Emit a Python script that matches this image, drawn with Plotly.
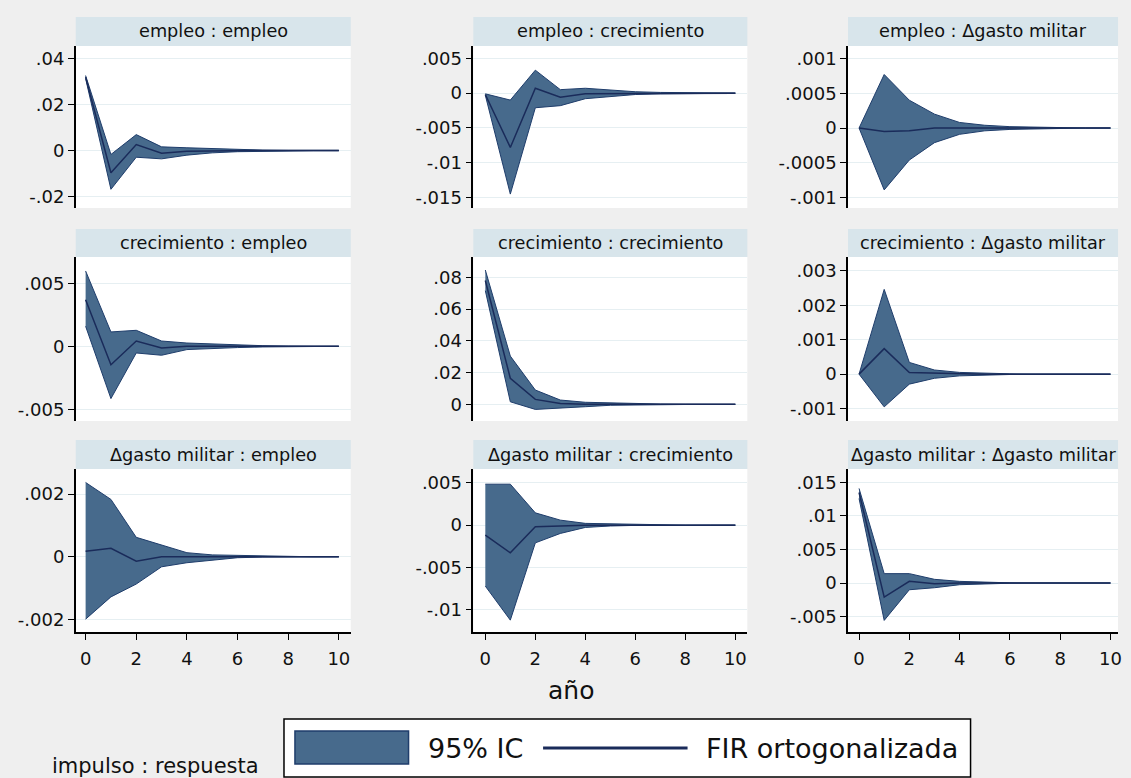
import plotly.graph_objects as go

W, H = 1131, 778

steps = [0, 1, 2, 3, 4, 5, 6, 7, 8, 9, 10]
x_ticks = [0, 2, 4, 6, 8, 10]
x_ticktext = ["0", "2", "4", "6", "8", "10"]

titles = [
    "empleo : empleo", "empleo : crecimiento", "empleo : \u0394gasto militar",
    "crecimiento : empleo", "crecimiento : crecimiento", "crecimiento : \u0394gasto militar",
    "\u0394gasto militar : empleo", "\u0394gasto militar : crecimiento", "\u0394gasto militar : \u0394gasto militar",
]

# --- panel data: orthogonalized IRF and 95% CI bounds ---
fir_1 = [0.0318, -0.0096, 0.0026, -0.0012, -0.0003, -0.0001, 0.0, 0.0, 0.0, 0.0, 0.0]
lo_1 = [0.0312, -0.0168, -0.0029, -0.0036, -0.0020, -0.0010, -0.0005, -0.0003, -0.0002, -0.0001, -0.0001]
hi_1 = [0.0325, -0.0017, 0.0069, 0.0016, 0.0012, 0.0008, 0.0004, 0.0002, 0.0001, 0.0001, 0.0001]

fir_2 = [-0.0002, -0.0078, 0.0007, -0.0006, -0.0001, -0.0001, 0.0, 0.0, 0.0, 0.0, 0.0]
lo_2 = [-0.0003, -0.0145, -0.0021, -0.0018, -0.0008, -0.0005, -0.0002, -0.0001, -0.00005, -0.00003, -0.00002]
hi_2 = [-0.0001, -0.0010, 0.0033, 0.0005, 0.0007, 0.0004, 0.0002, 0.0001, 0.00005, 0.00003, 0.00002]

fir_3 = [0.0, -0.00005, -0.00004, 0.0, 0.0, 0.0, 0.0, 0.0, 0.0, 0.0, 0.0]
lo_3 = [0.0, -0.00089, -0.00046, -0.00021, -0.00009, -0.00004, -0.00002, -0.00001, -0.000005, 0.0, 0.0]
hi_3 = [0.0, 0.00077, 0.00040, 0.00020, 0.00008, 0.00004, 0.00002, 0.00001, 0.000005, 0.0, 0.0]

fir_4 = [0.0037, -0.00146, 0.00042, -0.00013, 0.0, 0.0, 0.0, 0.0, 0.0, 0.0, 0.0]
lo_4 = [0.00159, -0.00415, -0.00053, -0.00071, -0.00026, -0.00015, -0.0001, -0.00005, -0.00002, -0.00001, 0.0]
hi_4 = [0.00598, 0.00114, 0.00127, 0.00042, 0.00026, 0.00018, 0.0001, 0.00005, 0.00002, 0.00001, 0.0]

fir_5 = [0.078, 0.0164, 0.0031, 0.0006, 0.0001, 0.0, 0.0, 0.0, 0.0, 0.0, 0.0]
lo_5 = [0.0716, 0.0016, -0.0032, -0.0025, -0.0015, -0.0006, -0.0003, -0.0002, -0.0001, -0.00005, 0.0]
hi_5 = [0.0846, 0.0304, 0.0090, 0.0027, 0.0013, 0.0008, 0.0004, 0.0002, 0.0001, 0.00005, 0.0]

fir_6 = [0.0, 0.00074, 0.00005, 0.00003, 0.00001, 0.0, 0.0, 0.0, 0.0, 0.0, 0.0]
lo_6 = [0.0, -0.00095, -0.00029, -0.00012, -0.00005, -0.00002, -0.00001, 0.0, 0.0, 0.0, 0.0]
hi_6 = [0.0, 0.00246, 0.00034, 0.00012, 0.00005, 0.00002, 0.00001, 0.0, 0.0, 0.0, 0.0]

fir_7 = [0.00018, 0.00027, -0.00014, 0.0, 0.0, 0.0, 0.0, 0.0, 0.0, 0.0, 0.0]
lo_7 = [-0.00199, -0.00128, -0.00087, -0.00032, -0.00019, -0.0001, -0.00003, -0.00001, 0.0, 0.0, 0.0]
hi_7 = [0.00237, 0.00183, 0.00062, 0.00037, 0.00013, 0.00006, 0.00004, 0.00003, 0.00001, 0.0, 0.0]

fir_8 = [-0.00118, -0.00327, -0.0002, -0.0001, 0.0, 0.0, 0.0, 0.0, 0.0, 0.0, 0.0]
lo_8 = [-0.00719, -0.0112, -0.00209, -0.00098, -0.00027, -0.0001, -0.00003, 0.0, 0.0, 0.0, 0.0]
hi_8 = [0.00483, 0.00483, 0.00145, 0.00059, 0.00021, 0.00015, 0.0001, 0.00002, 0.0, 0.0, 0.0]

fir_9 = [0.0135, -0.0021, 0.00025, -0.0001, 0.0, 0.0, 0.0, 0.0, 0.0, 0.0, 0.0]
lo_9 = [0.0126, -0.00557, -0.0010, -0.0007, -0.00025, -0.0001, -0.00003, 0.0, 0.0, 0.0, 0.0]
hi_9 = [0.0141, 0.0014, 0.0014, 0.00055, 0.00025, 0.0001, 0.00003, 0.0, 0.0, 0.0, 0.0]

fir_all = [fir_1, fir_2, fir_3, fir_4, fir_5, fir_6, fir_7, fir_8, fir_9]
lo_all = [lo_1, lo_2, lo_3, lo_4, lo_5, lo_6, lo_7, lo_8, lo_9]
hi_all = [hi_1, hi_2, hi_3, hi_4, hi_5, hi_6, hi_7, hi_8, hi_9]

y_tickvals = [
    [-0.02, 0, 0.02, 0.04],
    [-0.015, -0.01, -0.005, 0, 0.005],
    [-0.001, -0.0005, 0, 0.0005, 0.001],
    [-0.005, 0, 0.005],
    [0, 0.02, 0.04, 0.06, 0.08],
    [-0.001, 0, 0.001, 0.002, 0.003],
    [-0.002, 0, 0.002],
    [-0.01, -0.005, 0, 0.005],
    [-0.005, 0, 0.005, 0.01, 0.015],
]
y_ticktext = [
    ["-.02", "0", ".02", ".04"],
    ["-.015", "-.01", "-.005", "0", ".005"],
    ["-.001", "-.0005", "0", ".0005", ".001"],
    ["-.005", "0", ".005"],
    ["0", ".02", ".04", ".06", ".08"],
    ["-.001", "0", ".001", ".002", ".003"],
    ["-.002", "0", ".002"],
    ["-.01", "-.005", "0", ".005"],
    ["-.005", "0", ".005", ".01", ".015"],
]

# --- styling ---
y_ranges = [
    [-0.0249, 0.0453], [-0.0165, 0.00677], [-0.00115, 0.00118],
    [-0.00593, 0.00709], [-0.0105, 0.0928], [-0.00136, 0.0034],
    [-0.0024, 0.0028], [-0.0126, 0.00662], [-0.0073, 0.017],
]
x_ranges = [[-0.39, 10.47], [-0.48, 10.48], [-0.44, 10.3]]
col_px = [(76, 352), (475, 750), (851, 1122)]
row_px = [(46, 208), (257, 421), (469, 632)]
strip_px = [(17, 46), (229, 257), (440, 469)]

BAND = "#476a8c"
BAND_EDGE = "#1f3d6b"
LINE = "#1a2b5a"
BG = "#efefef"
STRIP = "#d8e5eb"
GRID = "#e6eff2"
FONT = "DejaVu Sans"
TICK_SIZE = 18


def px(x):
    return x / W


def py(y):
    return 1 - y / H


fig = go.Figure()
shapes = []
annotations = []
layout = {}

for i in range(9):
    r, c = divmod(i, 3)
    n = i + 1
    xa = "x" if n == 1 else f"x{n}"
    ya = "y" if n == 1 else f"y{n}"
    xkey = "xaxis" if n == 1 else f"xaxis{n}"
    ykey = "yaxis" if n == 1 else f"yaxis{n}"

    fig.add_trace(go.Scatter(x=steps, y=hi_all[i], mode="lines",
                             line=dict(color=BAND_EDGE, width=1),
                             xaxis=xa, yaxis=ya, showlegend=False, hoverinfo="skip"))
    fig.add_trace(go.Scatter(x=steps, y=lo_all[i], mode="lines", fill="tonexty",
                             fillcolor=BAND, line=dict(color=BAND_EDGE, width=1),
                             xaxis=xa, yaxis=ya, showlegend=False, name="95% IC"))
    fig.add_trace(go.Scatter(x=steps, y=fir_all[i], mode="lines",
                             line=dict(color=LINE, width=1.5),
                             xaxis=xa, yaxis=ya, showlegend=False, name="FIR ortogonalizada"))

    x0, x1 = col_px[c]
    y0, y1 = row_px[r]
    bottom = (r == 2)
    layout[xkey] = dict(
        domain=[px(x0), px(x1)], range=x_ranges[c], anchor=ya,
        showgrid=False, zeroline=False,
        showline=bottom, linecolor="black", linewidth=1.5,
        ticks="outside" if bottom else "", ticklen=6, tickcolor="black",
        tickvals=x_ticks, ticktext=x_ticktext, showticklabels=bottom,
        ticklabelstandoff=4,
        tickfont=dict(family=FONT, size=TICK_SIZE, color="#111111"),
    )
    layout[ykey] = dict(
        domain=[py(y1), py(y0)], range=y_ranges[i], anchor=xa,
        showgrid=True, gridcolor=GRID, gridwidth=1, zeroline=False,
        showline=True, linecolor="black", linewidth=1.5,
        ticks="outside", ticklen=6, tickcolor="black",
        tickvals=y_tickvals[i], ticktext=y_ticktext[i],
        tickfont=dict(family=FONT, size=TICK_SIZE, color="#111111"),
    )
    # white plot area
    shapes.append(dict(type="rect", xref="paper", yref="paper",
                       x0=px(x0), x1=px(x1), y0=py(y1), y1=py(y0),
                       fillcolor="white", line=dict(width=0), layer="below"))
    # title strip
    s0, s1 = strip_px[r]
    shapes.append(dict(type="rect", xref="paper", yref="paper",
                       x0=px(x0), x1=px(x1), y0=py(s1), y1=py(s0),
                       fillcolor=STRIP, line=dict(width=0), layer="below"))
    annotations.append(dict(text=titles[i], xref="paper", yref="paper",
                            x=px((x0 + x1) / 2), y=py((s0 + s1) / 2),
                            xanchor="center", yanchor="middle", showarrow=False,
                            font=dict(family=FONT, size=17.7, color="#111111")))

# x-axis title
annotations.append(dict(text="año", xref="paper", yref="paper", x=px(573), y=py(690),
                        xanchor="center", yanchor="middle", showarrow=False,
                        font=dict(family=FONT, size=25, color="#111111")))
# note
annotations.append(dict(text="impulso : respuesta", xref="paper", yref="paper",
                        x=px(50), y=py(766), xanchor="left", yanchor="middle", showarrow=False,
                        font=dict(family=FONT, size=21, color="#111111")))

# legend box
shapes.append(dict(type="rect", xref="paper", yref="paper",
                   x0=px(285), x1=px(974), y0=py(777), y1=py(719),
                   fillcolor="white", line=dict(color="black", width=1.5)))
shapes.append(dict(type="rect", xref="paper", yref="paper",
                   x0=px(296), x1=px(410), y0=py(764), y1=py(731),
                   fillcolor=BAND, line=dict(color=BAND_EDGE, width=1.5)))
shapes.append(dict(type="line", xref="paper", yref="paper",
                   x0=px(545), x1=px(690), y0=py(748), y1=py(748),
                   line=dict(color=LINE, width=3)))
annotations.append(dict(text="95% IC", xref="paper", yref="paper", x=px(428), y=py(748),
                        xanchor="left", yanchor="middle", showarrow=False,
                        font=dict(family=FONT, size=27, color="#111111")))
annotations.append(dict(text="FIR ortogonalizada", xref="paper", yref="paper", x=px(706), y=py(748),
                        xanchor="left", yanchor="middle", showarrow=False,
                        font=dict(family=FONT, size=27, color="#111111")))

fig.update_layout(
    width=W, height=H, autosize=False,
    margin=dict(l=0, r=0, t=0, b=0),
    paper_bgcolor=BG, plot_bgcolor="rgba(0,0,0,0)",
    showlegend=False,
    shapes=shapes, annotations=annotations,
    font=dict(family=FONT, color="#111111"),
    **layout,
)

fig.write_html("out.html")
